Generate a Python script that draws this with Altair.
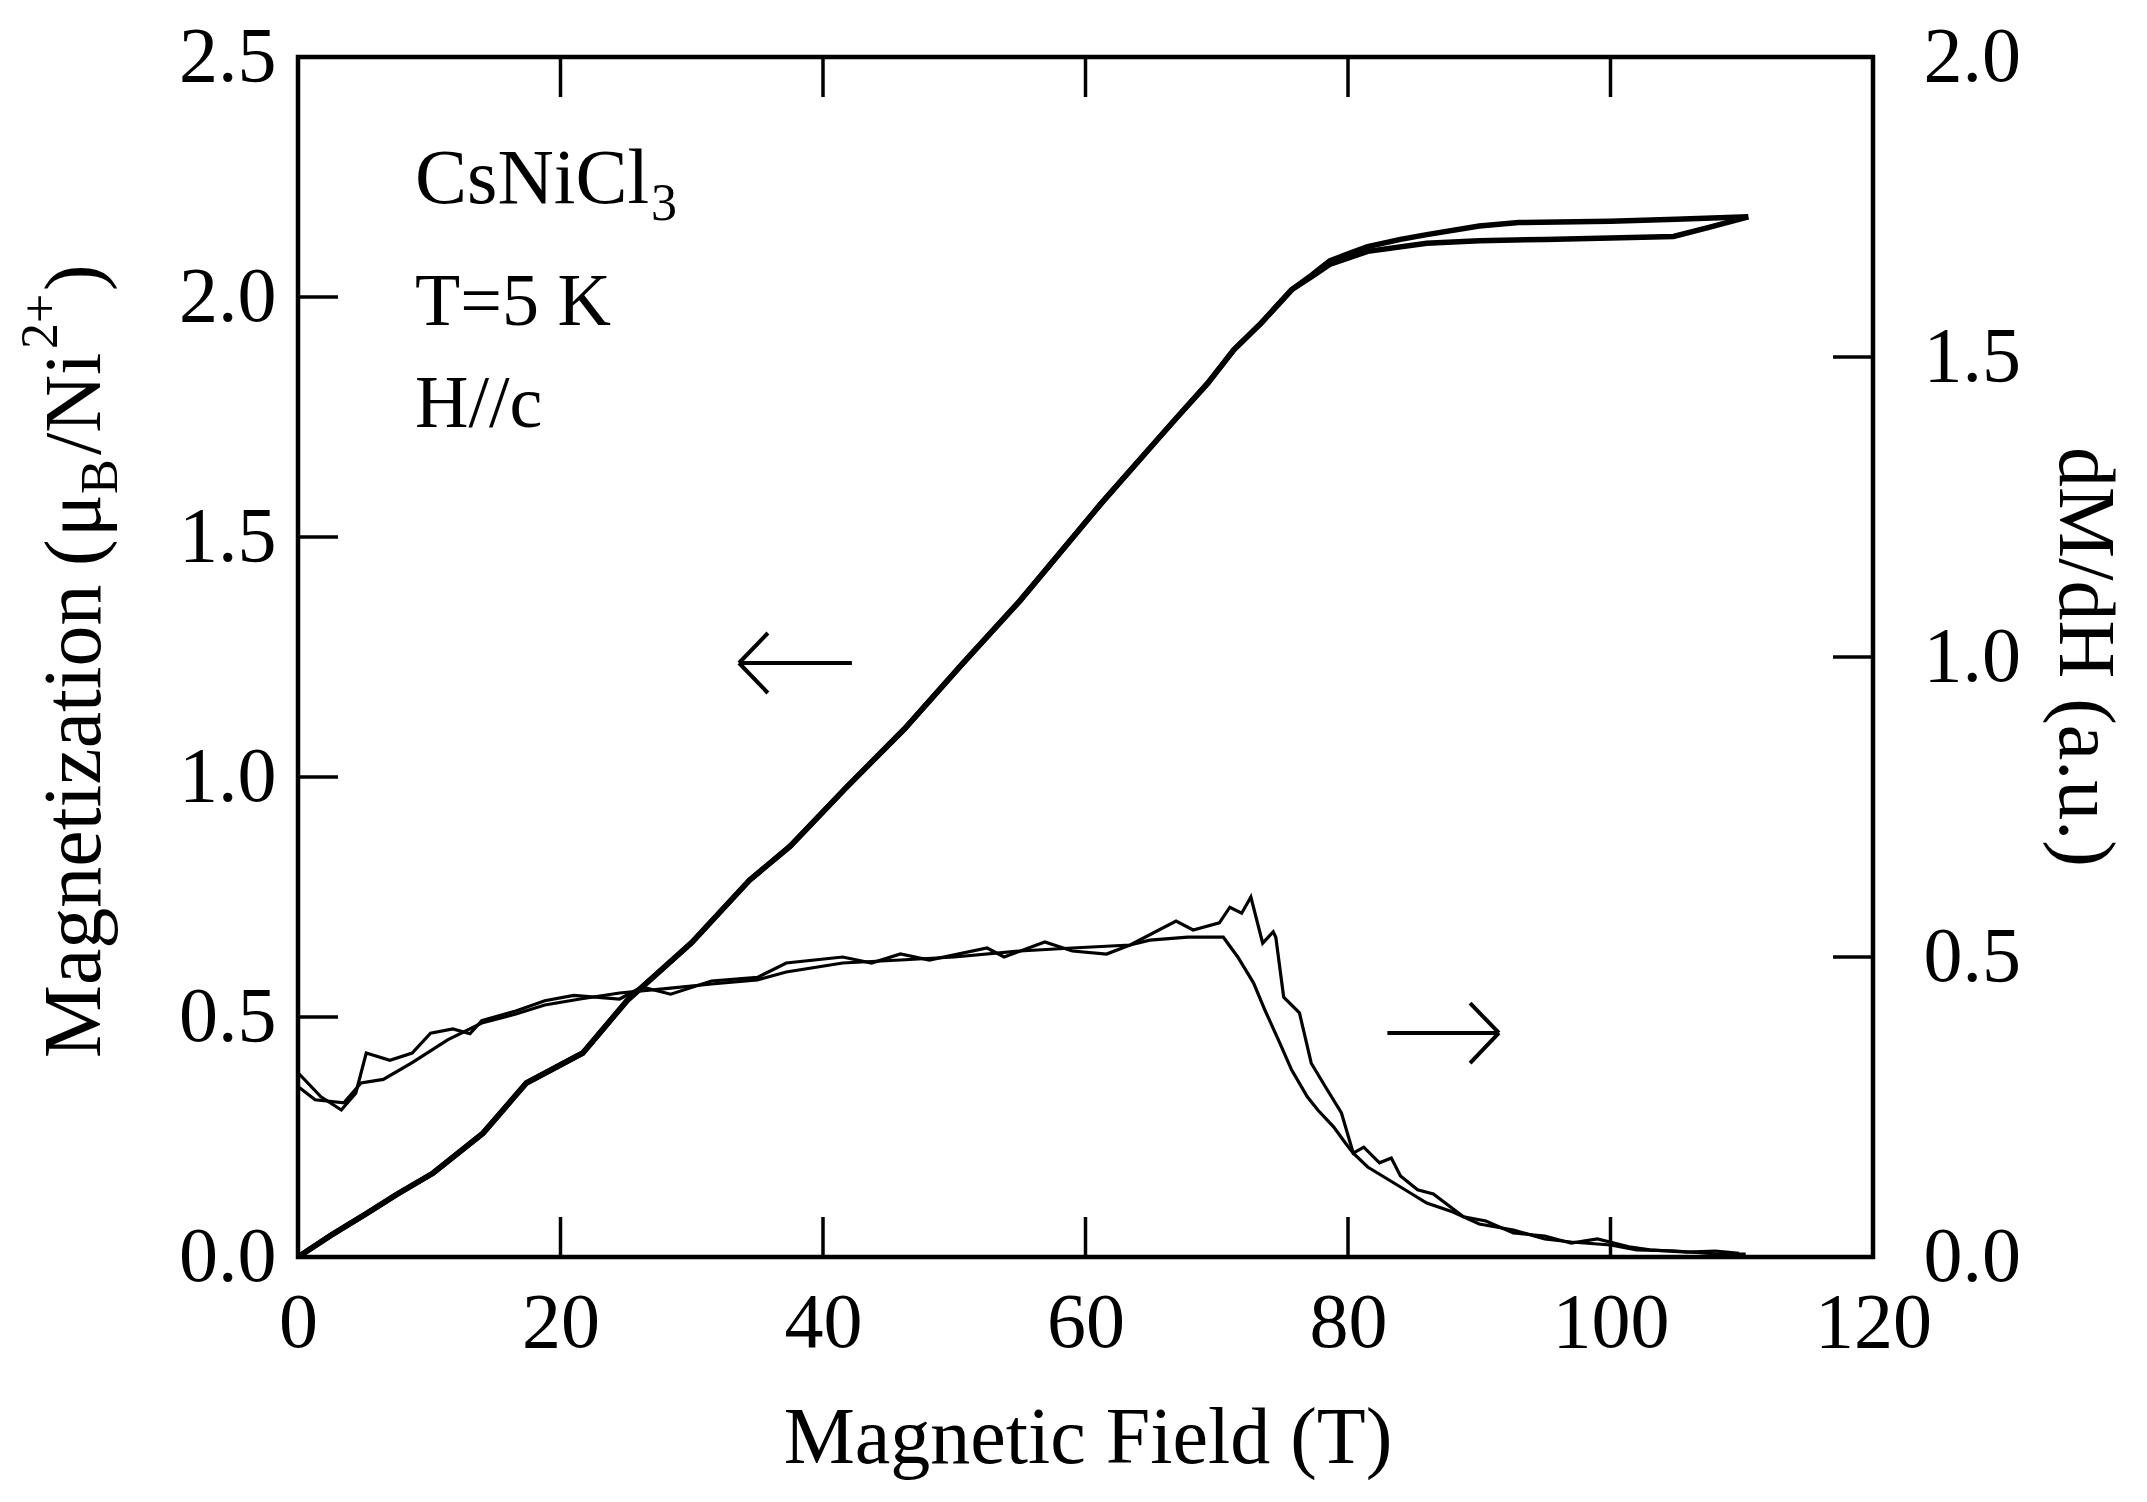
import altair as alt
import pandas as pd

# ---------------- data ----------------
# Magnetization, sweep 1 (lower branch at high field)
m1_h = [0, 2.5, 5.3, 7.5, 10.3, 14.1, 17.4, 21.7, 25.1, 30, 34.4, 37.5, 41.8, 46.2, 50.6,
        55.0, 61.2, 65.7, 67.0, 69.3, 71.3, 73.4, 75.7, 77.2, 78.6, 81.5, 86, 90, 95,
        100, 104.8, 107.5, 110.5]
m1_v = [0, 0.045, 0.092, 0.13, 0.175, 0.258, 0.3625, 0.425, 0.535, 0.655, 0.785, 0.856,
        0.979, 1.10, 1.235, 1.367, 1.57, 1.71, 1.75, 1.82, 1.89, 1.946, 2.015, 2.042,
        2.068, 2.095, 2.112, 2.117, 2.12, 2.123, 2.126, 2.145, 2.167]
# Magnetization, sweep 2 (upper branch at high field)
m2_h = [0, 2.5, 5.3, 7.5, 10.3, 14.1, 17.4, 21.7, 25.1, 30, 34.4, 37.5, 41.8, 46.2, 50.6,
        55.0, 61.2, 65.7, 67.0, 69.3, 71.3, 73.4, 75.7, 77.2, 78.6, 80, 81.5, 84, 86, 90,
        93, 100, 105, 110.5]
m2_v = [0, 0.045, 0.092, 0.13, 0.175, 0.258, 0.3625, 0.425, 0.535, 0.655, 0.785, 0.856,
        0.979, 1.10, 1.235, 1.367, 1.57, 1.71, 1.75, 1.82, 1.89, 1.946, 2.015, 2.045,
        2.075, 2.09, 2.105, 2.12, 2.13, 2.148, 2.155, 2.158, 2.162, 2.167]

# dM/dH, sweep A
da_h = [0, 1.75, 3.3, 4.4, 5.2, 7.0, 8.7, 10.1, 11.8, 13.1, 14, 16.6, 18.8, 21, 24.5, 26.2,
        28.4, 31.5, 35, 37.2, 41.5, 43.7, 45.9, 48.1, 52.5, 53.8, 56.9, 59, 61.6, 63.4,
        66.9, 68.2, 70.2, 71, 71.9, 72.6, 73.5, 74.3, 74.5, 75.1, 76.3, 77.2, 78.3, 79.5,
        80.4, 81.2, 82.4, 83.3, 84, 85.3, 86.5, 88.8, 90.5, 92.6, 95, 97, 99, 101.4, 103,
        105.8, 108, 109.8]
da_v = [0.307, 0.267, 0.245, 0.273, 0.34, 0.328, 0.34, 0.373, 0.38, 0.372, 0.394, 0.41,
        0.427, 0.436, 0.43, 0.45, 0.438, 0.46, 0.466, 0.49, 0.50, 0.49, 0.505, 0.495,
        0.515, 0.50, 0.525, 0.51, 0.505, 0.52, 0.56, 0.545, 0.557, 0.583, 0.573, 0.60,
        0.523, 0.542, 0.533, 0.433, 0.407, 0.323, 0.283, 0.24, 0.173, 0.183, 0.157, 0.165,
        0.135, 0.112, 0.105, 0.067, 0.06, 0.04, 0.035, 0.023, 0.03, 0.017, 0.012, 0.008,
        0.01, 0.006]
# dM/dH, sweep B
db_h = [0, 1.3, 3.5, 4.8, 6.5, 8.7, 11.4, 14, 16.6, 18.8, 21.5, 24.5, 28.4, 31.5, 35, 37.2,
        41.5, 45.9, 50, 55, 59, 63.4, 64.9, 67.8, 70.5, 71.6, 72.8, 73.7, 74.8, 75.7, 76.9,
        77.7, 78.9, 79.8, 80.4, 81.5, 83, 84.5, 86, 88, 90, 92.6, 95, 97, 100, 102, 105,
        108, 110.3]
db_v = [0.284, 0.262, 0.257, 0.29, 0.296, 0.324, 0.362, 0.39, 0.405, 0.42, 0.43, 0.44,
        0.448, 0.455, 0.462, 0.475, 0.49, 0.495, 0.50, 0.51, 0.515, 0.52, 0.528, 0.533,
        0.533, 0.50, 0.457, 0.41, 0.357, 0.312, 0.267, 0.245, 0.217, 0.19, 0.173, 0.15,
        0.13, 0.11, 0.09, 0.075, 0.055, 0.045, 0.03, 0.025, 0.02, 0.012, 0.01, 0.005, 0.005]

x_labels = [0, 20, 40, 60, 80, 100, 120]
x_ticks = [20, 40, 60, 80, 100]
yl_labels = [0, 0.5, 1.0, 1.5, 2.0, 2.5]
yl_ticks = [0.5, 1.0, 1.5, 2.0]
yr_labels = [0, 0.5, 1.0, 1.5, 2.0]
yr_ticks = [0.5, 1.0, 1.5]

# arrows (field T, magnetization units): shaft + two head strokes
arrow_x = [42.2, 33.6, 33.6, 83.0, 91.5, 91.5]
arrow_x2 = [33.6, 35.8, 35.8, 91.5, 89.3, 89.3]
arrow_y = [1.2375, 1.2375, 1.2375, 0.4667, 0.4667, 0.4667]
arrow_y2 = [1.2375, 1.3, 1.175, 0.4667, 0.529, 0.404]

# ---------------- tables ----------------
m_df = pd.concat([
    pd.DataFrame({"H": m1_h, "M": m1_v, "sweep": "1"}),
    pd.DataFrame({"H": m2_h, "M": m2_v, "sweep": "2"}),
])
d_df = pd.concat([
    pd.DataFrame({"H": da_h, "D": da_v, "sweep": "A"}),
    pd.DataFrame({"H": db_h, "D": db_v, "sweep": "B"}),
])
xt_df = pd.DataFrame({"H": x_ticks})
ylt_df = pd.DataFrame({"M": yl_ticks})
yrt_df = pd.DataFrame({"D": yr_ticks})
arr_df = pd.DataFrame({"H": arrow_x, "H2": arrow_x2, "M": arrow_y, "M2": arrow_y2})

FONT = "Liberation Serif"
FS = 78
W, H = 1575, 1200

xscale = alt.Scale(domain=[0, 120], nice=False, zero=False)
ylscale = alt.Scale(domain=[0, 2.5], nice=False)
yrscale = alt.Scale(domain=[0, 2.0], nice=False)

common_axis = dict(labelFont=FONT, labelFontSize=FS, labelColor="black", ticks=False,
                   domain=False, grid=False, title=None, labelFlush=False,
                   labelOverlap=False)

x_axis = alt.Axis(values=x_labels, format="d", labelPadding=27, orient="bottom",
                  **common_axis)
yl_axis = alt.Axis(values=yl_labels, format=".1f", labelPadding=22, orient="left",
                   **common_axis)
yr_axis = alt.Axis(values=yr_labels, format=".1f", labelPadding=50, orient="right",
                   **common_axis)

X = alt.X("H:Q", scale=xscale, axis=x_axis)
YL = alt.Y("M:Q", scale=ylscale, axis=yl_axis)
YR = alt.Y("D:Q", scale=yrscale, axis=yr_axis)

m_lines = alt.Chart(m_df).mark_line(color="black", strokeWidth=5.5, clip=True).encode(
    x=X, y=YL, detail="sweep:N", order="H:Q",
)

tick_style = dict(color="black", strokeWidth=3.5)
x_ticks_bottom = alt.Chart(xt_df).mark_rule(**tick_style).encode(
    x=X, y=alt.value(H), y2=alt.value(H - 40))
x_ticks_top = alt.Chart(xt_df).mark_rule(**tick_style).encode(
    x=X, y=alt.value(0), y2=alt.value(40))
yl_tick_marks = alt.Chart(ylt_df).mark_rule(**tick_style).encode(
    y=YL, x=alt.value(0), x2=alt.value(40))

arrows = alt.Chart(arr_df).mark_rule(color="black", strokeWidth=4).encode(
    x=X, x2="H2:Q", y=YL, y2="M2:Q")


def txt(s, x, y, size=FS, angle=0, align="left"):
    kw = dict(font=FONT, fontSize=size, color="black", align=align,
              baseline="alphabetic")
    if angle:
        kw["angle"] = angle
    return alt.Chart(pd.DataFrame({"t": [s]})).mark_text(**kw).encode(
        text="t:N", x=alt.value(x), y=alt.value(y))


texts = [
    txt("CsNiCl", 117, 146),
    txt("3", 353, 163, size=52),
    txt("T=5 K", 117, 268, size=74),
    txt("H//c", 117, 370, size=74),
    txt("Magnetic Field (T)", 790, 1406, size=80, align="center"),
    # left title pieces, rotated
    txt("Magnetization", -198, 1001, size=82, angle=270),
    txt("(", -198, 509, size=80, angle=270),
    txt("μ", -198, 480, size=80, angle=270),
    txt("B", -181, 437, size=52, angle=270),
    txt("/Ni", -198, 398, size=80, angle=270),
    txt("2+", -241, 292, size=52, angle=270),
    txt(")", -198, 234, size=80, angle=270),
    # right title
    txt("dM/dH (a.u.)", 1762, 600, size=80, angle=90, align="center"),
]

left = alt.layer(m_lines, x_ticks_bottom, x_ticks_top, yl_tick_marks, arrows, *texts)

d_lines = alt.Chart(d_df).mark_line(color="black", strokeWidth=3.2, clip=True).encode(
    x=X, y=YR, detail="sweep:N", order="H:Q",
)
yr_tick_marks = alt.Chart(yrt_df).mark_rule(**tick_style).encode(
    y=YR, x=alt.value(W), x2=alt.value(W - 40))

right = alt.layer(d_lines, yr_tick_marks)

chart = alt.layer(left, right).resolve_scale(y="independent").properties(
    width=W, height=H,
    padding={"left": 298, "top": 57, "right": 274, "bottom": 245},
    autosize=alt.AutoSizeParams(type="none"),
    background="white",
).configure_view(
    stroke="black", strokeWidth=4.5, fill="white"
)

chart.save("out.html", embed_options={"renderer": "svg", "actions": False})
